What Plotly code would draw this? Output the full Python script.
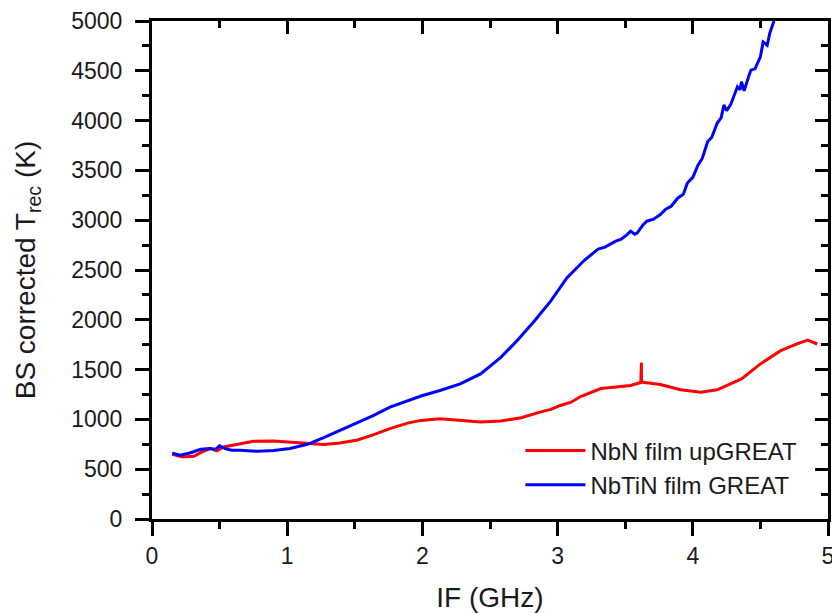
import plotly.graph_objects as go

# IF frequency (GHz) and beam-splitter corrected receiver temperature (K)
nbn_if = [0.15, 0.23, 0.31, 0.37, 0.43, 0.48, 0.53, 0.65, 0.75, 0.90, 1.02, 1.15,
          1.27, 1.39, 1.52, 1.64, 1.76, 1.89, 1.99, 2.13, 2.28, 2.43, 2.58, 2.73,
          2.87, 2.95, 3.02, 3.10, 3.17, 3.32, 3.54, 3.615, 3.62, 3.62, 3.63, 3.76,
          3.91, 4.06, 4.18, 4.36, 4.50, 4.65, 4.78, 4.85, 4.92]
nbn_trec = [650, 623, 630, 673, 707, 683, 723, 750, 780, 783, 773, 757,
            747, 763, 793, 847, 907, 963, 990, 1007, 990, 973, 983, 1017,
            1073, 1100, 1140, 1173, 1230, 1310, 1340, 1370, 1570, 1375, 1372, 1350,
            1297, 1273, 1297, 1407, 1557, 1690, 1763, 1797, 1757]

nbtin_if = [0.15, 0.21, 0.28, 0.36, 0.43, 0.47, 0.50, 0.54, 0.59, 0.65, 0.78, 0.90,
            1.02, 1.15, 1.27, 1.39, 1.52, 1.64, 1.76, 1.89, 1.99, 2.13, 2.28, 2.43,
            2.58, 2.70, 2.83, 2.95, 3.07, 3.20, 3.30, 3.35, 3.39, 3.43, 3.47, 3.51,
            3.54, 3.57, 3.59, 3.63, 3.66, 3.71, 3.76, 3.80, 3.84, 3.89, 3.93, 3.96,
            4.00, 4.04, 4.07, 4.11, 4.14, 4.18, 4.21, 4.23, 4.25, 4.28, 4.33, 4.35,
            4.36, 4.38, 4.41, 4.43, 4.46, 4.48, 4.50, 4.52, 4.55, 4.57, 4.60]
nbtin_trec = [660, 640, 663, 700, 707, 700, 735, 707, 690, 690, 680, 687,
              707, 750, 817, 890, 963, 1040, 1123, 1190, 1235, 1290, 1357, 1457,
              1623, 1790, 1990, 2190, 2423, 2600, 2710, 2730, 2760, 2790, 2810, 2850,
              2890, 2860, 2873, 2950, 2990, 3010, 3057, 3110, 3140, 3223, 3260, 3373,
              3430, 3557, 3620, 3790, 3830, 3973, 4030, 4157, 4100, 4160, 4340, 4310,
              4390, 4300, 4430, 4507, 4520, 4573, 4640, 4790, 4757, 4880, 5000]

FONT = "Arial, Liberation Sans, sans-serif"

fig = go.Figure()
fig.add_trace(go.Scatter(x=nbn_if, y=nbn_trec, mode="lines", name="NbN film upGREAT",
                         line=dict(color="#ff0000", width=3)))
fig.add_trace(go.Scatter(x=nbtin_if, y=nbtin_trec, mode="lines", name="NbTiN film GREAT",
                         line=dict(color="#0000ff", width=3)))
# empty trace so the mirrored top/right axes are drawn
fig.add_trace(go.Scatter(x=[], y=[], xaxis="x2", yaxis="y2", showlegend=False))

common = dict(showgrid=False, zeroline=False, showline=True, linecolor="black",
              linewidth=3, tickcolor="black", tickwidth=2.5, automargin=False)

fig.update_layout(
    width=832, height=613,
    margin=dict(l=152, r=4, t=21, b=94),
    paper_bgcolor="white", plot_bgcolor="white",
    font=dict(family=FONT, size=23, color="#1a1a1a"),
    showlegend=True,
    legend=dict(x=0.545, y=0.182, xanchor="left", yanchor="top",
                bgcolor="rgba(0,0,0,0)", font=dict(size=24, family=FONT),
                tracegroupgap=0, itemwidth=60),
    xaxis=dict(range=[0, 5], dtick=1, ticks="outside", ticklen=14,
               minor=dict(dtick=0.5, ticks="outside", ticklen=7, tickwidth=2.5, tickcolor="black"),
               title=dict(text="IF (GHz)", font=dict(size=28), standoff=22),
               ticklabelstandoff=0, ticklabeloverflow="allow", **common),
    yaxis=dict(range=[0, 5000], dtick=500, ticks="outside", ticklen=14,
               minor=dict(dtick=250, ticks="outside", ticklen=7, tickwidth=2.5, tickcolor="black"),
               title=dict(text="BS corrected T<sub>rec</sub> (K)", font=dict(size=28), standoff=28),
               ticklabelstandoff=8, **common),
    xaxis2=dict(range=[0, 5], dtick=1, overlaying="x", side="top", ticks="inside", ticklen=13,
                showticklabels=False,
                minor=dict(dtick=0.5, ticks="inside", ticklen=7, tickwidth=2.5, tickcolor="black"),
                **common),
    yaxis2=dict(range=[0, 5000], dtick=500, overlaying="y", side="right", ticks="inside", ticklen=13,
                showticklabels=False,
                minor=dict(dtick=250, ticks="inside", ticklen=7, tickwidth=2.5, tickcolor="black"),
                **common),
)

fig.write_html("out.html")
